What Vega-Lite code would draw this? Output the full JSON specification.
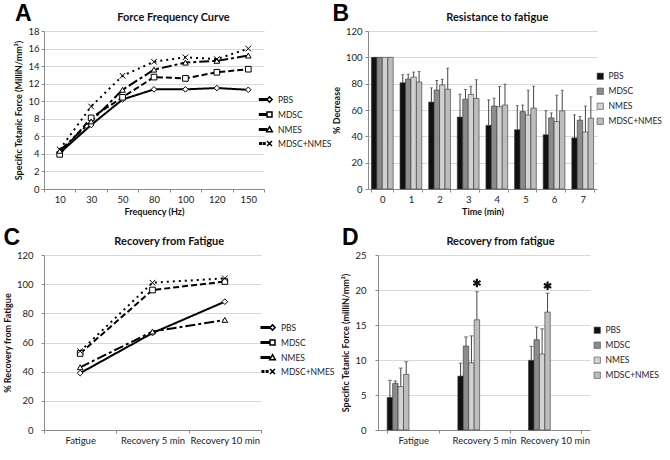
{
  "$schema": "https://vega.github.io/schema/vega-lite/v6.json",
  "background": "white",
  "padding": {"left": 3, "top": 3, "right": 2, "bottom": 3},
  "spacing": 10,
  "resolve": {"scale": {"shape": "independent", "fill": "independent", "strokeDash": "independent"}, "legend": {"shape": "independent", "fill": "independent", "strokeDash": "independent"}},
  "config": {
    "font": "Lato",
    "view": {"stroke": null},
    "axis": {"labelFont": "Lato", "labelFontSize": 9.5, "labelColor": "#222", "titleFont": "Lato", "titleFontSize": 9, "titleFontWeight": "bold", "titleColor": "#111", "domainColor": "#8a8a8a", "tickColor": "#8a8a8a", "gridColor": "#d9d9d9", "tickSize": 3, "labelPadding": 2},
    "axisX": {"grid": false, "labelAngle": 0, "tickBand": "extent", "titlePadding": 4},
    "axisY": {"grid": true, "titlePadding": 4},
    "legend": {"labelFont": "Lato", "labelFontSize": 8.5, "labelColor": "#222", "rowPadding": 5},
    "title": {"font": "Lato", "fontSize": 11, "fontWeight": "bold", "color": "#111"}
  },
  "datasets": {
    "ff": [
      {"f": "10", "sa": "PBS", "v": 4.1}, {"f": "30", "sa": "PBS", "v": 7.3}, {"f": "50", "sa": "PBS", "v": 10.2}, {"f": "80", "sa": "PBS", "v": 11.35}, {"f": "100", "sa": "PBS", "v": 11.35}, {"f": "120", "sa": "PBS", "v": 11.5}, {"f": "150", "sa": "PBS", "v": 11.3},
      {"f": "10", "sa": "MDSC", "v": 3.95}, {"f": "30", "sa": "MDSC", "v": 8.1}, {"f": "50", "sa": "MDSC", "v": 10.45}, {"f": "80", "sa": "MDSC", "v": 12.75}, {"f": "100", "sa": "MDSC", "v": 12.6}, {"f": "120", "sa": "MDSC", "v": 13.3}, {"f": "150", "sa": "MDSC", "v": 13.65},
      {"f": "10", "sa": "NMES", "v": 4.35}, {"f": "30", "sa": "NMES", "v": 7.7}, {"f": "50", "sa": "NMES", "v": 11.3}, {"f": "80", "sa": "NMES", "v": 13.6}, {"f": "100", "sa": "NMES", "v": 14.4}, {"f": "120", "sa": "NMES", "v": 14.6}, {"f": "150", "sa": "NMES", "v": 15.2},
      {"f": "10", "sa": "MDSC+NMES", "v": 4.5}, {"f": "30", "sa": "MDSC+NMES", "v": 9.4}, {"f": "50", "sa": "MDSC+NMES", "v": 12.9}, {"f": "80", "sa": "MDSC+NMES", "v": 14.5}, {"f": "100", "sa": "MDSC+NMES", "v": 15.0}, {"f": "120", "sa": "MDSC+NMES", "v": 14.8}, {"f": "150", "sa": "MDSC+NMES", "v": 16.0}
    ],
    "rf": [
      {"t": "0", "gb": "PBS", "v": 100, "e": null}, {"t": "0", "gb": "MDSC", "v": 100, "e": null}, {"t": "0", "gb": "NMES", "v": 100, "e": null}, {"t": "0", "gb": "MDSC+NMES", "v": 100, "e": null},
      {"t": "1", "gb": "PBS", "v": 80.7, "e": 86.8}, {"t": "1", "gb": "MDSC", "v": 83.5, "e": 87.2}, {"t": "1", "gb": "NMES", "v": 85.0, "e": 88.8}, {"t": "1", "gb": "MDSC+NMES", "v": 81.3, "e": 89.3},
      {"t": "2", "gb": "PBS", "v": 66.0, "e": 76.8}, {"t": "2", "gb": "MDSC", "v": 75.2, "e": 82.4}, {"t": "2", "gb": "NMES", "v": 79.0, "e": 83.3}, {"t": "2", "gb": "MDSC+NMES", "v": 75.8, "e": 91.8},
      {"t": "3", "gb": "PBS", "v": 54.6, "e": 72.0}, {"t": "3", "gb": "MDSC", "v": 68.2, "e": 75.6}, {"t": "3", "gb": "NMES", "v": 71.8, "e": 78.0}, {"t": "3", "gb": "MDSC+NMES", "v": 68.8, "e": 83.0},
      {"t": "4", "gb": "PBS", "v": 48.3, "e": 67.7}, {"t": "4", "gb": "MDSC", "v": 63.0, "e": 69.0}, {"t": "4", "gb": "NMES", "v": 62.5, "e": 77.8}, {"t": "4", "gb": "MDSC+NMES", "v": 63.8, "e": 79.6},
      {"t": "5", "gb": "PBS", "v": 45.0, "e": 63.3}, {"t": "5", "gb": "MDSC", "v": 58.8, "e": 63.8}, {"t": "5", "gb": "NMES", "v": 56.3, "e": 75.0}, {"t": "5", "gb": "MDSC+NMES", "v": 61.5, "e": 78.0},
      {"t": "6", "gb": "PBS", "v": 41.2, "e": 59.4}, {"t": "6", "gb": "MDSC", "v": 54.0, "e": 57.8}, {"t": "6", "gb": "NMES", "v": 51.2, "e": 71.2}, {"t": "6", "gb": "MDSC+NMES", "v": 59.4, "e": 75.0},
      {"t": "7", "gb": "PBS", "v": 38.8, "e": 56.3}, {"t": "7", "gb": "MDSC", "v": 52.3, "e": 55.0}, {"t": "7", "gb": "NMES", "v": 43.3, "e": 63.0}, {"t": "7", "gb": "MDSC+NMES", "v": 53.8, "e": 70.0}
    ],
    "rc": [
      {"c": "Fatigue", "sc": "PBS", "v": 39}, {"c": "Recovery 5 min", "sc": "PBS", "v": 66.5}, {"c": "Recovery 10 min", "sc": "PBS", "v": 88},
      {"c": "Fatigue", "sc": "MDSC", "v": 52.5}, {"c": "Recovery 5 min", "sc": "MDSC", "v": 96}, {"c": "Recovery 10 min", "sc": "MDSC", "v": 101.8},
      {"c": "Fatigue", "sc": "NMES", "v": 43}, {"c": "Recovery 5 min", "sc": "NMES", "v": 67.5}, {"c": "Recovery 10 min", "sc": "NMES", "v": 75.5},
      {"c": "Fatigue", "sc": "MDSC+NMES", "v": 54}, {"c": "Recovery 5 min", "sc": "MDSC+NMES", "v": 101}, {"c": "Recovery 10 min", "sc": "MDSC+NMES", "v": 104}
    ],
    "rd": [
      {"c": "Fatigue", "gd": "PBS", "v": 4.65, "e": 7.1, "sy": null}, {"c": "Fatigue", "gd": "MDSC", "v": 6.65, "e": 7.0, "sy": null}, {"c": "Fatigue", "gd": "NMES", "v": 6.2, "e": 8.85, "sy": null}, {"c": "Fatigue", "gd": "MDSC+NMES", "v": 7.95, "e": 9.75, "sy": null},
      {"c": "Recovery 5 min", "gd": "PBS", "v": 7.7, "e": 9.55, "sy": null}, {"c": "Recovery 5 min", "gd": "MDSC", "v": 12.0, "e": 13.3, "sy": null}, {"c": "Recovery 5 min", "gd": "NMES", "v": 9.6, "e": 13.45, "sy": null}, {"c": "Recovery 5 min", "gd": "MDSC+NMES", "v": 15.75, "e": 19.75, "sy": 21.0},
      {"c": "Recovery 10 min", "gd": "PBS", "v": 9.95, "e": 11.95, "sy": null}, {"c": "Recovery 10 min", "gd": "MDSC", "v": 12.9, "e": 14.7, "sy": null}, {"c": "Recovery 10 min", "gd": "NMES", "v": 10.85, "e": 14.45, "sy": null}, {"c": "Recovery 10 min", "gd": "MDSC+NMES", "v": 16.85, "e": 19.55, "sy": 20.6}
    ]
  },
  "vconcat": [
    {
      "spacing": 0,
      "resolve": {"scale": {"shape": "independent", "fill": "independent", "strokeDash": "independent"}, "legend": {"shape": "independent", "fill": "independent", "strokeDash": "independent"}},
      "hconcat": [
        {
          "title": {"text": "A", "anchor": "start", "frame": "bounds", "font": "Liberation Sans", "fontSize": 23, "fontWeight": "bold", "color": "#000", "offset": 0, "dy": 14},
          "resolve": {"legend": {"shape": "independent"}},
          "vconcat": [
            {
              "width": 220, "height": 158,
              "title": {"text": "Force Frequency Curve", "frame": "bounds", "offset": 3},
              "data": {"name": "ff"},
              "resolve": {"scale": {"shape": "independent"}},
              "encoding": {
                "x": {"field": "f", "type": "ordinal", "sort": ["10", "30", "50", "80", "100", "120", "150"], "scale": {"type": "band", "paddingInner": 0, "paddingOuter": 0}, "bandPosition": 0.5, "axis": {"title": "Frequency (Hz)"}},
                "y": {"field": "v", "type": "quantitative", "scale": {"domain": [0, 18], "nice": false, "padding": 0}, "axis": {"values": [0, 2, 4, 6, 8, 10, 12, 14, 16, 18], "title": "Specific Tetanic Force (MilliN/mm²)"}}
              },
              "layer": [
                {"mark": {"type": "line", "color": "black", "strokeWidth": 2}, "encoding": {"strokeDash": {"field": "sa", "type": "nominal", "scale": {"domain": ["PBS", "MDSC", "NMES", "MDSC+NMES"], "range": [[1, 0], [6, 3], [10, 3, 3, 3], [2, 4]]}, "legend": null}}},
                {"mark": {"type": "point", "filled": true, "fill": "white", "stroke": "black", "strokeWidth": 1, "size": 32, "opacity": 1}, "encoding": {"shape": {"field": "sa", "type": "nominal", "scale": {"domain": ["PBS", "MDSC", "NMES", "MDSC+NMES"], "range": ["diamond", "square", "triangle-up", "M-1,-1L1,1M-1,1L1,-1"]}, "legend": null}}},
                {"transform": [{"filter": "false"}], "mark": {"type": "point", "filled": true, "fill": "white", "stroke": "black", "strokeWidth": 1, "size": 44, "opacity": 1}, "encoding": {"shape": {"field": "sa", "type": "nominal", "scale": {"domain": ["PBS", "MDSC", "NMES", "MDSC+NMES"], "range": ["M-3.0,-0.22L-0.8,-0.22L-0.8,0.22L-3.0,0.22Z M0,-0.8L0.8,0L0,0.8L-0.8,0Z", "M-3.0,-0.22L-0.8,-0.22L-0.8,0.22L-3.0,0.22Z M-0.75,-0.75L0.75,-0.75L0.75,0.75L-0.75,0.75Z", "M-3.0,-0.22L-0.9,-0.22L-0.9,0.22L-3.0,0.22Z M0,-0.85L0.85,0.65L-0.85,0.65Z", "M-2.9,-0.2L-2.45,-0.2L-2.45,0.2L-2.9,0.2Z M-1.8,-0.2L-1.35,-0.2L-1.35,0.2L-1.8,0.2Z M-0.75,-0.75L0.75,0.75M-0.75,0.75L0.75,-0.75"]}, "legend": {"title": null, "orient": "none", "legendX": 221, "legendY": 64, "rowPadding": 3, "symbolSize": 44, "encode": {"symbols": {"update": {"fill": {"value": "white"}, "stroke": {"value": "black"}, "strokeWidth": {"value": 1}, "opacity": {"value": 1}, "fillOpacity": {"value": 1}, "strokeOpacity": {"value": 1}}}}}}}}
              ]
            }
          ]
        },
        {
          "title": {"text": "B", "anchor": "start", "frame": "bounds", "font": "Liberation Sans", "fontSize": 23, "fontWeight": "bold", "color": "#000", "offset": 0, "dy": 14},
          "resolve": {"legend": {"fill": "independent"}},
          "vconcat": [
            {
              "width": 229, "height": 158,
              "title": {"text": "Resistance to fatigue", "frame": "bounds", "offset": 3},
              "data": {"name": "rf"},
              "encoding": {
                "x": {"field": "t", "type": "ordinal", "scale": {"paddingInner": 0.24, "paddingOuter": 0.12}, "axis": {"title": "Time (min)"}},
                "xOffset": {"field": "gb", "type": "nominal", "scale": {"domain": ["PBS", "MDSC", "NMES", "MDSC+NMES"]}}
              },
              "layer": [
                {"mark": {"type": "bar", "stroke": "#333", "strokeWidth": 0.6}, "encoding": {"y": {"field": "v", "type": "quantitative", "scale": {"domain": [0, 120], "nice": false, "padding": 0}, "axis": {"values": [0, 20, 40, 60, 80, 100, 120], "title": "% Decrease", "labelPadding": 3}}, "fill": {"field": "gb", "type": "nominal", "scale": {"domain": ["PBS", "MDSC", "NMES", "MDSC+NMES"], "range": ["#111111", "#8c8c8c", "#d2d2d2", "#bdbdbd"]}, "legend": {"title": null, "orient": "none", "legendX": 228, "legendY": 41, "symbolType": "square", "symbolSize": 40, "symbolStrokeColor": "#444", "symbolStrokeWidth": 0.6}}}},
                {"transform": [{"filter": "datum.e != null"}], "mark": {"type": "rule", "color": "#444", "strokeWidth": 1}, "encoding": {"y": {"field": "v", "type": "quantitative", "axis": {"values": [0, 20, 40, 60, 80, 100, 120], "title": "% Decrease", "labelPadding": 3}}, "y2": {"field": "e"}}},
                {"transform": [{"filter": "datum.e != null"}], "mark": {"type": "tick", "orient": "horizontal", "size": 3, "thickness": 1, "color": "#444"}, "encoding": {"y": {"field": "e", "type": "quantitative", "axis": {"values": [0, 20, 40, 60, 80, 100, 120], "title": "% Decrease", "labelPadding": 3}}}}
              ]
            }
          ]
        }
      ]
    },
    {
      "spacing": 6,
      "resolve": {"scale": {"shape": "independent", "fill": "independent", "strokeDash": "independent"}, "legend": {"shape": "independent", "fill": "independent", "strokeDash": "independent"}},
      "hconcat": [
        {
          "title": {"text": "C", "anchor": "start", "frame": "bounds", "font": "Liberation Sans", "fontSize": 23, "fontWeight": "bold", "color": "#000", "offset": 0, "dy": 14},
          "resolve": {"legend": {"shape": "independent"}},
          "vconcat": [
            {
              "width": 217, "height": 175,
              "title": {"text": "Recovery from Fatigue", "frame": "bounds", "offset": 3},
              "data": {"name": "rc"},
              "resolve": {"scale": {"shape": "independent"}},
              "encoding": {
                "x": {"field": "c", "type": "ordinal", "sort": ["Fatigue", "Recovery 5 min", "Recovery 10 min"], "scale": {"type": "band", "paddingInner": 0, "paddingOuter": 0}, "bandPosition": 0.5, "axis": {"title": null}},
                "y": {"field": "v", "type": "quantitative", "scale": {"domain": [0, 120], "nice": false, "padding": 0}, "axis": {"values": [0, 20, 40, 60, 80, 100, 120], "title": "% Recovery from Fatigue", "labelPadding": 8}}
              },
              "layer": [
                {"mark": {"type": "line", "color": "black", "strokeWidth": 2}, "encoding": {"strokeDash": {"field": "sc", "type": "nominal", "scale": {"domain": ["PBS", "MDSC", "NMES", "MDSC+NMES"], "range": [[1, 0], [6, 3], [10, 3, 3, 3], [2, 4]]}, "legend": null}}},
                {"mark": {"type": "point", "filled": true, "fill": "white", "stroke": "black", "strokeWidth": 1, "size": 32, "opacity": 1}, "encoding": {"shape": {"field": "sc", "type": "nominal", "scale": {"domain": ["PBS", "MDSC", "NMES", "MDSC+NMES"], "range": ["diamond", "square", "triangle-up", "M-1,-1L1,1M-1,1L1,-1"]}, "legend": null}}},
                {"transform": [{"filter": "false"}], "mark": {"type": "point", "filled": true, "fill": "white", "stroke": "black", "strokeWidth": 1, "size": 44, "opacity": 1}, "encoding": {"shape": {"field": "sc", "type": "nominal", "scale": {"domain": ["PBS", "MDSC", "NMES", "MDSC+NMES"], "range": ["M-3.4,-0.22L-0.8,-0.22L-0.8,0.22L-3.4,0.22Z M0,-0.8L0.8,0L0,0.8L-0.8,0Z", "M-3.4,-0.22L-0.8,-0.22L-0.8,0.22L-3.4,0.22Z M-0.75,-0.75L0.75,-0.75L0.75,0.75L-0.75,0.75Z", "M-3.4,-0.22L-0.9,-0.22L-0.9,0.22L-3.4,0.22Z M0,-0.85L0.85,0.65L-0.85,0.65Z", "M-3.1,-0.2L-2.65,-0.2L-2.65,0.2L-3.1,0.2Z M-1.85,-0.2L-1.4,-0.2L-1.4,0.2L-1.85,0.2Z M-0.75,-0.75L0.75,0.75M-0.75,0.75L0.75,-0.75"]}, "legend": {"title": null, "orient": "none", "legendX": 224, "legendY": 68, "rowPadding": 3, "symbolSize": 44, "encode": {"symbols": {"update": {"fill": {"value": "white"}, "stroke": {"value": "black"}, "strokeWidth": {"value": 1}, "opacity": {"value": 1}, "fillOpacity": {"value": 1}, "strokeOpacity": {"value": 1}}}}}}}}
              ]
            }
          ]
        },
        {
          "title": {"text": "D", "anchor": "start", "frame": "bounds", "font": "Liberation Sans", "fontSize": 23, "fontWeight": "bold", "color": "#000", "offset": 0, "dy": 14},
          "resolve": {"legend": {"fill": "independent"}},
          "vconcat": [
            {
              "width": 212, "height": 175,
              "title": {"text": "Recovery from fatigue", "frame": "bounds", "offset": 3},
              "data": {"name": "rd"},
              "encoding": {
                "x": {"field": "c", "type": "ordinal", "sort": ["Fatigue", "Recovery 5 min", "Recovery 10 min"], "scale": {"paddingInner": 0.26, "paddingOuter": 0.13}, "axis": {"title": null}},
                "xOffset": {"field": "gd", "type": "nominal", "scale": {"domain": ["PBS", "MDSC", "NMES", "MDSC+NMES"]}}
              },
              "layer": [
                {"mark": {"type": "bar", "stroke": "#333", "strokeWidth": 0.6}, "encoding": {"y": {"field": "v", "type": "quantitative", "scale": {"domain": [0, 25], "nice": false, "padding": 0}, "axis": {"values": [0, 5, 10, 15, 20, 25], "title": "Specific Tetanic Force (milliN/mm²)", "labelPadding": 9}}, "fill": {"field": "gd", "type": "nominal", "scale": {"domain": ["PBS", "MDSC", "NMES", "MDSC+NMES"], "range": ["#111111", "#8c8c8c", "#d2d2d2", "#bdbdbd"]}, "legend": {"title": null, "orient": "none", "legendX": 215, "legendY": 71, "symbolType": "square", "symbolSize": 40, "symbolStrokeColor": "#444", "symbolStrokeWidth": 0.6}}}},
                {"mark": {"type": "rule", "color": "#444", "strokeWidth": 1}, "encoding": {"y": {"field": "v", "type": "quantitative", "axis": {"values": [0, 5, 10, 15, 20, 25], "title": "Specific Tetanic Force (milliN/mm²)", "labelPadding": 9}}, "y2": {"field": "e"}}},
                {"mark": {"type": "tick", "orient": "horizontal", "size": 4, "thickness": 1, "color": "#444"}, "encoding": {"y": {"field": "e", "type": "quantitative", "axis": {"values": [0, 5, 10, 15, 20, 25], "title": "Specific Tetanic Force (milliN/mm²)", "labelPadding": 9}}}},
                {"transform": [{"filter": "datum.sy != null"}], "mark": {"type": "point", "shape": "M0,-1L0,1M-0.87,-0.5L0.87,0.5M-0.87,0.5L0.87,-0.5", "size": 70, "filled": false, "stroke": "#111", "strokeWidth": 2.2, "opacity": 1}, "encoding": {"y": {"field": "sy", "type": "quantitative", "axis": {"values": [0, 5, 10, 15, 20, 25], "title": "Specific Tetanic Force (milliN/mm²)", "labelPadding": 9}}}}
              ]
            }
          ]
        }
      ]
    }
  ]
}
